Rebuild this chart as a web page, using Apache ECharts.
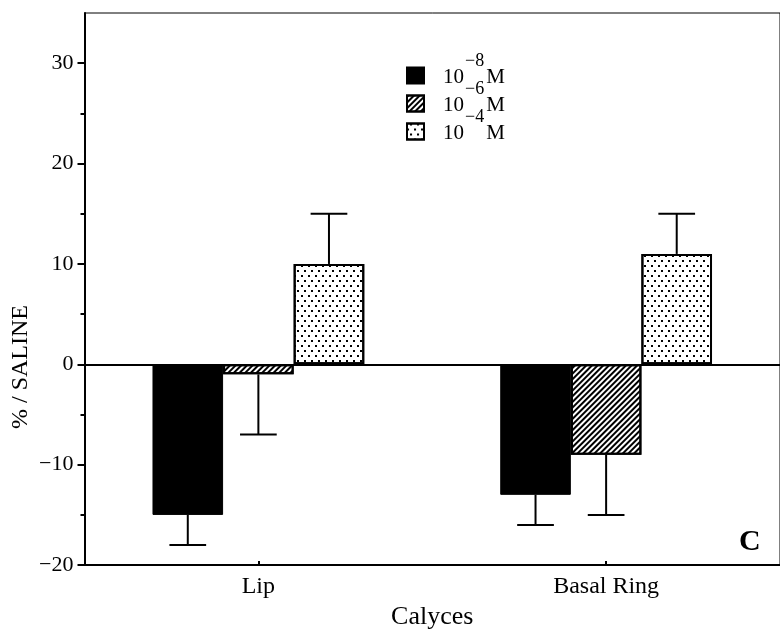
<!DOCTYPE html>
<html>
<head>
<meta charset="utf-8">
<script src="https://cdn.jsdelivr.net/npm/echarts@6/dist/echarts.min.js"></script>
<style>
  html, body { margin: 0; padding: 0; background: #fff; }
  #chart { width: 780px; height: 635px; }
</style>
</head>
<body>
<div id="chart"></div>
<script>
// Calyces: response relative to saline at three concentrations
const categories = ['Lip', 'Basal Ring'];
const exponents = ['−8', '−6', '−4'];
const seriesNames = ['1e-8 M', '1e-6 M', '1e-4 M'];
const values8 = [-15, -13];
const errors8 = [3, 3];
const values6 = [-1, -9];
const errors6 = [6, 6];
const values4 = [10, 11];
const errors4 = [5, 4];
const majorTicks = [-20, -10, 0, 10, 20, 30];
const minorTicks = [-15, -5, 5, 15, 25];

const SERIF = '"Liberation Serif", "Times New Roman", serif';
const BAR_FRAC = 0.203;   // bar width as a share of the category band

const valueSets = [values8, values6, values4];
const errorSets = [errors8, errors6, errors4];

const fills = [
  { color: '#000', borderColor: '#000', borderWidth: 1 },
  { color: '#fff', borderColor: '#000', borderWidth: 2,
    decal: { symbol: 'rect', symbolSize: 1, color: '#000',
             dashArrayX: [1, 0], dashArrayY: [1.6, 1.9], rotation: -Math.PI / 4 } },
  { color: '#fff', borderColor: '#000', borderWidth: 2,
    decal: { symbol: 'rect', symbolSize: 1, color: '#000',
             dashArrayX: [[1.6, 4.4], [0, 3, 1.6, 1.4]], dashArrayY: [1.5, 2.8], rotation: 0 } }
];

const barSeries = seriesNames.map((name, k) => ({
  name: name,
  type: 'bar',
  data: valueSets[k],
  barWidth: (BAR_FRAC * 100) + '%',
  barGap: '0%',
  itemStyle: fills[k],
  z: 3
}));

barSeries[0].markLine = {
  silent: true,
  symbol: ['none', 'none'],
  label: { show: false },
  lineStyle: { color: '#000', width: 2, type: 'solid' },
  data: [{ yAxis: 0 }],
  z: 2
};

// one-sided error bars, drawn outward from the end of each bar
const errorData = [];
valueSets.forEach((vals, k) => {
  vals.forEach((v, i) => errorData.push([i, v, errorSets[k][i], k]));
});

const errorSeries = {
  type: 'custom',
  name: 'err',
  data: errorData,
  z: 4,
  silent: true,
  renderItem: function (params, api) {
    const ci = api.value(0), v = api.value(1), e = api.value(2), k = api.value(3);
    const band = api.size([1, 0])[0];
    const barW = band * BAR_FRAC;
    const start = api.coord([ci, v]);
    const end = api.coord([ci, v + Math.sign(v) * e]);
    const x = start[0] + (k - 1) * barW;
    const half = barW * 0.26;
    const st = { stroke: '#000', lineWidth: 2 };
    return {
      type: 'group',
      children: [
        { type: 'line', shape: { x1: x, y1: start[1], x2: x, y2: end[1] }, style: st },
        { type: 'line', shape: { x1: x - half, y1: end[1], x2: x + half, y2: end[1] }, style: st }
      ]
    };
  }
};

const chart = echarts.init(document.getElementById('chart'), null, { renderer: 'canvas' });

chart.setOption({
  backgroundColor: '#fff',
  animation: false,
  grid: {
    left: 84.5, right: -4.5, top: 13, bottom: 68,
    show: true, borderColor: '#000', borderWidth: 1, containLabel: false
  },
  legend: {
    orient: 'vertical',
    left: 406,
    top: 52,
    padding: 0,
    itemGap: -8,
    itemWidth: 17,
    itemHeight: 16,
    icon: 'rect',
    selectedMode: false,
    data: seriesNames,
    formatter: function (name) {
      const k = seriesNames.indexOf(name);
      return '{a|10}{sup|' + exponents[k] + '}{m|M}';
    },
    textStyle: {
      rich: {
        a: { fontFamily: SERIF, fontSize: 21, color: '#000', padding: [4, 0, 0, 14] },
        sup: { fontFamily: SERIF, fontSize: 18, color: '#000', padding: [0, 0, 29, 1] },
        m: { fontFamily: SERIF, fontSize: 21, color: '#000', padding: [4, 0, 0, 2] }
      }
    }
  },
  xAxis: {
    type: 'category',
    data: categories,
    position: 'bottom',
    name: 'Calyces',
    nameLocation: 'middle',
    nameGap: 37,
    nameTextStyle: { fontFamily: SERIF, fontSize: 26, color: '#000' },
    axisLine: { onZero: false, lineStyle: { color: '#000', width: 2 } },
    axisTick: { show: true, inside: true, alignWithLabel: true, length: 4,
                lineStyle: { color: '#000', width: 2 } },
    axisLabel: { fontFamily: SERIF, fontSize: 24, color: '#000', margin: 10 },
    splitLine: { show: false }
  },
  yAxis: [
    {
      type: 'value',
      min: -20, max: 35, interval: 10,
      axisLine: { show: true, lineStyle: { color: '#000', width: 2 } },
      axisTick: { show: true, length: 7, customValues: majorTicks,
                  lineStyle: { color: '#000', width: 2 } },
      axisLabel: {
        fontFamily: SERIF, fontSize: 22, color: '#000', margin: 11,
        customValues: majorTicks,
        formatter: v => String(v).replace('-', '\u2212')
      },
      splitLine: { show: false }
    },
    {
      type: 'value',
      min: -20, max: 35, interval: 10,
      position: 'left',
      axisLine: { show: false },
      axisTick: { show: true, length: 4, customValues: minorTicks,
                  lineStyle: { color: '#000', width: 2 } },
      axisLabel: { show: false },
      splitLine: { show: false }
    }
  ],
  graphic: [
    {
      type: 'text',
      x: 21, y: 367,
      rotation: Math.PI / 2,
      style: {
        text: '% / SALINE',
        font: '24px ' + SERIF,
        fill: '#000',
        textAlign: 'center',
        textVerticalAlign: 'middle'
      }
    },
    {
      type: 'text',
      x: 739, y: 527,
      style: {
        text: 'C',
        font: 'bold 30px ' + SERIF,
        fill: '#000',
        textAlign: 'left',
        textVerticalAlign: 'top'
      }
    }
  ],
  series: barSeries.concat([errorSeries])
});
</script>
</body>
</html>
